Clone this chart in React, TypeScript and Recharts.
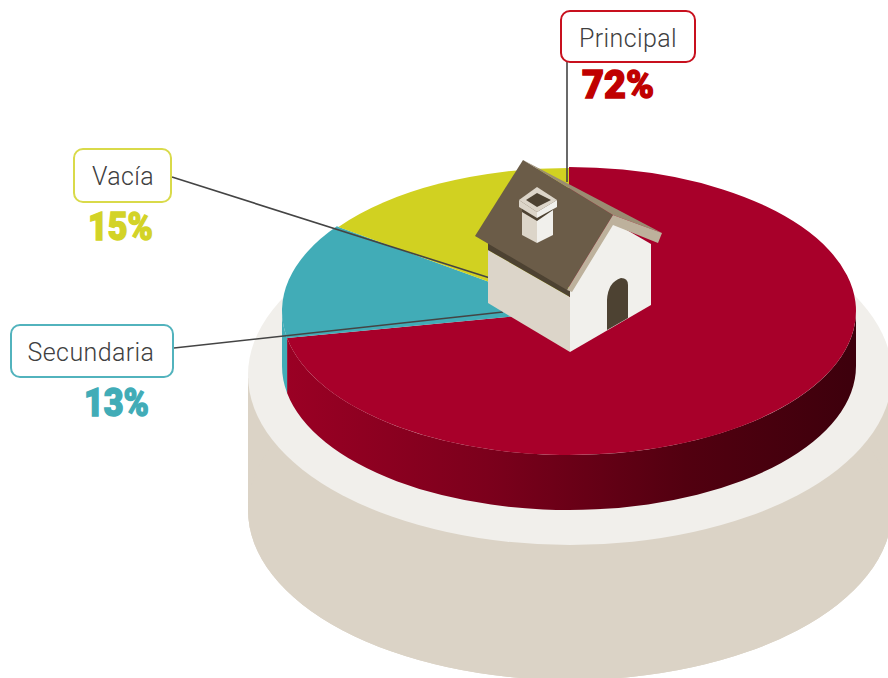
import React from 'react';
import { PieChart, Pie } from 'recharts';

const categories = ['Principal', 'Secundaria', 'Vacía'];
const values = [72, 13, 15];
const percentLabels = ['72%', '13%', '15%'];
const topColors = ['#a8002a', '#41acb7', '#d1d121'];
const textColors = ['#c00000', '#41acb7', '#d3d327'];
const borderColors = ['#c8101e', '#52b3bd', '#d9da4a'];
const radiusOffsets = [0, 0, -2];

const rows = categories.map((name, i) => ({ name, value: values[i], idx: i }));

const W = 888;
const H = 678;
const CX = 569;
const CY = 311;
const R = 287;
const TILT = 144 / 287;
const DEPTH = 55;

const pt = (cx: number, cy: number, r: number, deg: number) => {
  const a = (deg * Math.PI) / 180;
  return [cx + r * Math.cos(a), cy - r * TILT * Math.sin(a)];
};

const TopSlice = (p: any) => {
  const idx = p.payload?.idx ?? 0;
  const r = p.outerRadius + radiusOffsets[idx];
  const [x1, y1] = pt(p.cx, p.cy, r, p.startAngle);
  const [x2, y2] = pt(p.cx, p.cy, r, p.endAngle);
  const large = Math.abs(p.startAngle - p.endAngle) > 180 ? 1 : 0;
  const d = `M${p.cx},${p.cy} L${x1},${y1} A${r},${r * TILT} 0 ${large} 1 ${x2},${y2} Z`;
  return <path d={d} fill={topColors[idx]} />;
};

const WallSlice = (p: any) => {
  const idx = p.payload?.idx ?? 0;
  const r = p.outerRadius + radiusOffsets[idx];
  // only the front half of the rim (-180..0 degrees) can be seen
  const s = Math.min(p.startAngle, 0);
  const e = Math.max(p.endAngle, -180);
  if (s <= e) return <g />;
  const [x1, y1] = pt(p.cx, p.cy, r, s);
  const [x2, y2] = pt(p.cx, p.cy, r, e);
  const d = `M${x1},${y1} A${r},${r * TILT} 0 0 1 ${x2},${y2} L${x2},${y2 + DEPTH} A${r},${r * TILT} 0 0 0 ${x1},${y1 + DEPTH} Z`;
  return <path d={d} fill={idx === 0 ? 'url(#wallGrad)' : topColors[idx]} />;
};

const boxes = [
  { x: 561, y: 11, w: 134, h: 51, tx: 628, ty: 47, px: 618, py: 98, pw: 72, line: [567, 62, 567, 182] },
  { x: 11, y: 325, w: 162, h: 52, tx: 91, ty: 361, px: 116.5, py: 416, pw: 65, line: [174, 348, 503, 312] },
  { x: 74, y: 149, w: 97, h: 53, tx: 123, ty: 185, px: 120.5, py: 240, pw: 65, line: [172, 177, 490, 278] },
];

const House = () => (
  <g>
    <polygon points="488,250 570,297 570,352 488,303" fill="#dcd5c9" />
    <polygon points="570,290 613,222 651,244 651,305 570,352" fill="#f1f0ec" />
    <path d="M607,330 L607,300 Q608,282 621,278 Q628,278 628,285 L628,318 Z" fill="#4d4232" />
    <polygon points="488,242 570,290 570,297 488,250" fill="#4d4232" />
    <polygon points="523,160 613,215 567,290 475,236" fill="#6b5c48" />
    <polygon points="523,160 662,233 613,215" fill="#9a8c72" />
    <polygon points="613,215 662,233 658,243 613,225 572,292 567,290" fill="#bdb19c" />
    <polygon points="522,207 537,215 537,243 522,235" fill="#dcd5c9" />
    <polygon points="537,215 553,207 553,235 537,243" fill="#f1f0ec" />
    <polygon points="522,207 537,216 553,207 553,210 537,221 522,212" fill="#4d4232" />
    <polygon points="519,200 537,212 537,218 519,207" fill="#dcd5c9" />
    <polygon points="537,212 557,200 557,207 537,218" fill="#f1f0ec" />
    <polygon points="519,200 537,187 557,200 537,212" fill="#dcd5c9" />
    <polygon points="526,200 537,193 551,200 537,207" fill="#4d4232" />
  </g>
);

export default function App() {
  return (
    <div style={{ position: 'absolute', left: 0, top: 0, width: W, height: H, overflow: 'hidden', background: '#fff' }}>
      <svg width={W} height={H} style={{ position: 'absolute', left: 0, top: 0 }}>
        <path d="M248,378 L248,510 A322,170 0 0 0 892,510 L892,378 Z" fill="#dbd3c6" />
        <ellipse cx={570} cy={510} rx={322} ry={170} fill="#dbd3c6" />
        <ellipse cx={570} cy={375} rx={322} ry={170} fill="#f1efeb" />
      </svg>
      <div style={{ position: 'absolute', left: 0, top: 0 }}>
        <PieChart width={W} height={H} margin={{ top: 0, right: 0, bottom: 0, left: 0 }}>
          <defs>
            <linearGradient id="wallGrad" gradientUnits="userSpaceOnUse" x1={288} y1={0} x2={856} y2={0}>
              <stop offset="0" stopColor="#9a0024" />
              <stop offset="0.35" stopColor="#7c001c" />
              <stop offset="0.7" stopColor="#520010" />
              <stop offset="1" stopColor="#3d000c" />
            </linearGradient>
          </defs>
          <Pie data={rows} dataKey="value" nameKey="name" cx={CX} cy={CY} innerRadius={0} outerRadius={R} startAngle={90} endAngle={-270} stroke="none" isAnimationActive={false} shape={WallSlice} legendType="none" />
          <Pie data={rows} dataKey="value" nameKey="name" cx={CX} cy={CY} innerRadius={0} outerRadius={R} startAngle={90} endAngle={-270} stroke="none" isAnimationActive={false} shape={TopSlice} />
        </PieChart>
      </div>
      <svg width={W} height={H} style={{ position: 'absolute', left: 0, top: 0 }}>
        {boxes.map((b, i) => (
          <line key={i} x1={b.line[0]} y1={b.line[1]} x2={b.line[2]} y2={b.line[3]} stroke="#444" strokeWidth={1.6} />
        ))}
        <House />
        {boxes.map((b, i) => (
          <g key={i}>
            <rect x={b.x} y={b.y} width={b.w} height={b.h} rx={9} fill="#fff" stroke={borderColors[i]} strokeWidth={2} />
            <text x={b.tx} y={b.ty} textAnchor="middle" fontFamily="Roboto" fontWeight={300} fontSize={25} fill="#404040" letterSpacing={0.4}>{categories[i]}</text>
            <text x={b.px} y={b.py} textAnchor="middle" fontFamily="Roboto" fontWeight={900} fontSize={38} fill={textColors[i]} stroke={textColors[i]} strokeWidth={1.4} textLength={b.pw} lengthAdjust="spacingAndGlyphs">{percentLabels[i]}</text>
          </g>
        ))}
      </svg>
    </div>
  );
}
